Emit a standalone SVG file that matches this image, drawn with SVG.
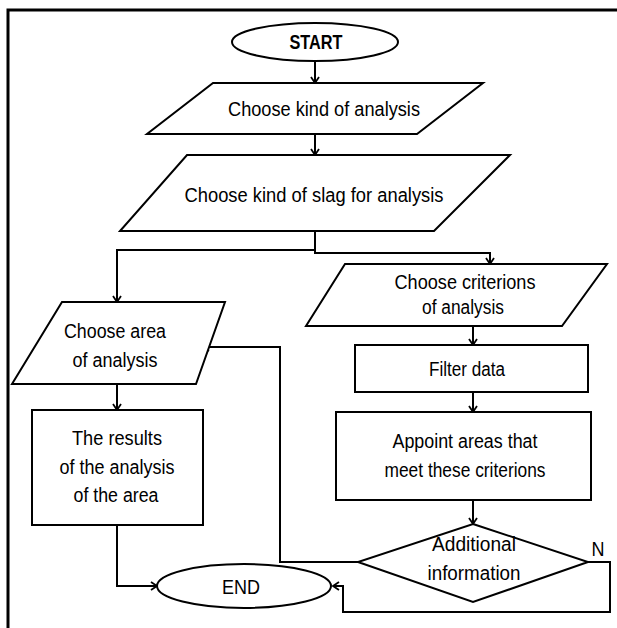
<svg xmlns="http://www.w3.org/2000/svg" width="617" height="628" viewBox="0 0 617 628">
<style>
.s{fill:#fff;stroke:#000;stroke-width:2}
.c{fill:none;stroke:#000;stroke-width:2}
text{font-family:"Liberation Sans",Arial,sans-serif;font-size:20px;fill:#000;text-anchor:middle}
.b{font-weight:bold}
</style>
<defs>
<marker id="a" markerWidth="10" markerHeight="10" refX="8" refY="5" orient="auto" markerUnits="userSpaceOnUse">
<path d="M2,1 L8,5 L2,9" fill="none" stroke="#000" stroke-width="1.8"/>
</marker>
</defs>
<rect width="617" height="628" fill="#fff"/>
<path d="M8,628 V10 H617" fill="none" stroke="#000" stroke-width="3"/>
<g id="connectors">
<path class="c" d="M315,61 V83" marker-end="url(#a)"/>
<path class="c" d="M315,134 V155" marker-end="url(#a)"/>
<path class="c" d="M315,231 V250 H117 V302" marker-end="url(#a)"/>
<path class="c" d="M315,250 V253 H490 V264" marker-end="url(#a)"/>
<path class="c" d="M473,326 V345" marker-end="url(#a)"/>
<path class="c" d="M473,392 V412" marker-end="url(#a)"/>
<path class="c" d="M473,500 V524" marker-end="url(#a)"/>
<path class="c" d="M117,384 V410" marker-end="url(#a)"/>
<path class="c" d="M117,525 V586 H157" marker-end="url(#a)"/>
<path class="c" d="M358,562 H280 V347 H203" marker-end="url(#a)"/>
<path class="c" d="M588,562 H610 V612 H343 V586 H333" marker-end="url(#a)"/>
<text x="598" y="556" textLength="13" lengthAdjust="spacingAndGlyphs">N</text>
</g>
<g id="start">
<ellipse class="s" cx="315" cy="42" rx="83" ry="19"/>
<text class="b" x="316" y="49" textLength="53" lengthAdjust="spacingAndGlyphs">START</text>
</g>
<g id="kind">
<polygon class="s" points="213,83 483,83 417,134 147,134"/>
<text x="324" y="116" textLength="192" lengthAdjust="spacingAndGlyphs">Choose kind of analysis</text>
</g>
<g id="slag">
<polygon class="s" points="187,155 510,155 434,231 120,231"/>
<text x="314" y="202" textLength="259" lengthAdjust="spacingAndGlyphs">Choose kind of slag for analysis</text>
</g>
<g id="criterions">
<polygon class="s" points="345,264 607,264 562,326 306,326"/>
<text x="465" y="289" textLength="141" lengthAdjust="spacingAndGlyphs">Choose criterions</text>
<text x="463" y="314" textLength="82" lengthAdjust="spacingAndGlyphs">of analysis</text>
</g>
<g id="filter">
<rect class="s" x="355" y="345" width="233" height="47"/>
<text x="467" y="376" textLength="76" lengthAdjust="spacingAndGlyphs">Filter data</text>
</g>
<g id="appoint">
<rect class="s" x="336" y="412" width="255" height="88"/>
<text x="465" y="448" textLength="145" lengthAdjust="spacingAndGlyphs">Appoint areas that</text>
<text x="465" y="477" textLength="161" lengthAdjust="spacingAndGlyphs">meet these criterions</text>
</g>
<g id="decision">
<polygon class="s" points="473,524 588,562 473,602 358,562"/>
<text x="474" y="551" textLength="84" lengthAdjust="spacingAndGlyphs">Additional</text>
<text x="474" y="580" textLength="93" lengthAdjust="spacingAndGlyphs">information</text>
</g>
<g id="area">
<polygon class="s" points="62,302 225,302 196,384 12,384"/>
<text x="115" y="338" textLength="102" lengthAdjust="spacingAndGlyphs">Choose area</text>
<text x="115" y="367" textLength="85" lengthAdjust="spacingAndGlyphs">of analysis</text>
</g>
<g id="results">
<rect class="s" x="32" y="410" width="171" height="115"/>
<text x="117" y="445" textLength="90" lengthAdjust="spacingAndGlyphs">The results</text>
<text x="117" y="474" textLength="115" lengthAdjust="spacingAndGlyphs">of the analysis</text>
<text x="116" y="502" textLength="85" lengthAdjust="spacingAndGlyphs">of the area</text>
</g>
<g id="end">
<ellipse class="s" cx="244" cy="586" rx="87" ry="22"/>
<text x="241" y="594" textLength="38" lengthAdjust="spacingAndGlyphs">END</text>
</g>
</svg>
